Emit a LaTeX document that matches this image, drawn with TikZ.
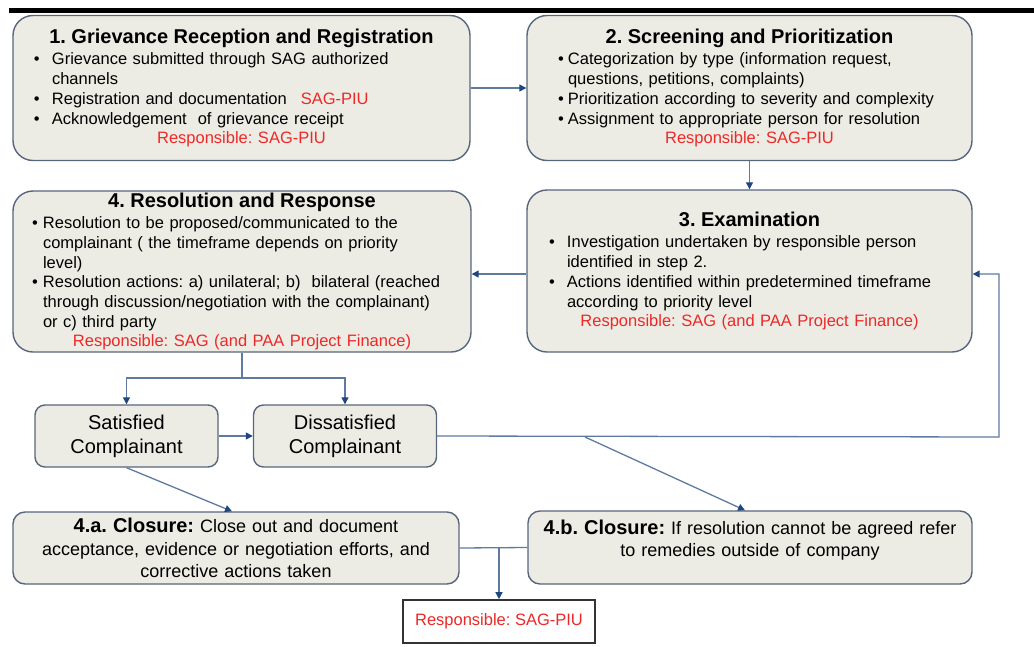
\documentclass[tikz,border=0pt]{standalone}
\usepackage{fontspec}
\setmainfont{Liberation Sans}
\usepackage{xcolor}
\usepackage{tikz}
\usetikzlibrary{arrows.meta, positioning, calc}
\definecolor{boxfill}{RGB}{236,236,228}
\definecolor{boxedge}{RGB}{88,102,125}
\definecolor{linkblue}{RGB}{95,122,160}
\definecolor{tipblue}{RGB}{31,70,125}
\definecolor{sagred}{RGB}{236,40,40}
\frenchspacing
\newcommand{\bitem}[2][18pt]{\par{\def\\{\newline}\hangindent=#1\hangafter=1\rightskip=-30pt plus 1fil\noindent\makebox[#1][l]{\textbullet}#2\par}}
\newcommand{\boxtitle}[1]{{\centering\fontsize{20}{23}\selectfont\bfseries #1\par}\vspace{2pt}}
\newcommand{\respline}[1]{{\centering\color{sagred}#1\par}}
\tikzset{
    stage/.style={
        rectangle,
        rounded corners=20pt,
        draw=boxedge,
        line width=1.4pt,
        fill=boxfill,
        align=left,
        inner ysep=1pt,
        font=\fontsize{16.5}{19.7}\selectfont\frenchspacing
    },
    outcome/.style={
        stage,
        rounded corners=10pt,
        align=center,
        minimum width=183pt,
        minimum height=62pt,
        font=\fontsize{20}{24}\selectfont
    },
    closure/.style={
        stage,
        rounded corners=12pt,
        align=center,
        inner xsep=4pt,
        font=\fontsize{18}{22.5}\selectfont\frenchspacing
    },
    respbox/.style={
        rectangle,
        draw=black!80,
        line width=1.6pt,
        fill=white,
        text=sagred,
        minimum width=192pt,
        minimum height=43pt,
        font=\fontsize{16.5}{19.7}\selectfont
    },
    link/.style={
        draw=linkblue,
        line width=1.3pt
    },
    flow/.style={
        link,
        -{Triangle[length=7pt,width=7pt,color=tipblue]}
    }
}

\begin{document}
\begin{tikzpicture}[x=1pt, y=-1pt]
\useasboundingbox (0,0) rectangle (1034,646);

% Top rule
\fill (9,8) rectangle (1034,13);

% Stages 1 to 4
\node[stage, inner xsep=21pt, text width=415pt, minimum width=457pt, minimum height=145pt] (grv) at (241.5,88) {%
\boxtitle{1. Grievance Reception and Registration}
\bitem{Grievance submitted through SAG authorized\\channels}
\bitem{Registration and documentation\hspace{14pt}{\color{sagred}SAG-PIU}}
\bitem{Acknowledgement\ \ of grievance receipt}
\respline{Responsible: SAG-PIU}};

\node[stage, inner xsep=31pt, text width=383pt, minimum width=445pt, minimum height=145pt] (scr) at (749.5,88) {%
\boxtitle{2. Screening and Prioritization}
\bitem[10pt]{Categorization by type (information request,\\questions, petitions, complaints)}
\bitem[10pt]{Prioritization according to severity and complexity}
\bitem[10pt]{Assignment to appropriate person for resolution}
\respline{Responsible: SAG-PIU}};

\node[stage, inner xsep=22pt, text width=401pt, minimum width=445pt, minimum height=162pt] (exm) at (749.5,271) {%
\boxtitle{3. Examination}
\bitem{Investigation undertaken by responsible person\\identified in step 2.}
\bitem{Actions identified within predetermined timeframe\\according to priority level}
\respline{Responsible: SAG (and PAA Project Finance)}};

\node[stage, inner xsep=19pt, text width=420pt, minimum width=458pt, minimum height=161pt] (rsl) at (242,271.5) {%
\boxtitle{4. Resolution and Response}
\bitem[11pt]{Resolution to be proposed/communicated to the\\complainant ( the timeframe depends on priority\\level)}
\bitem[11pt]{Resolution actions: a) unilateral; b)\ \ bilateral (reached\\through discussion/negotiation with the complainant)\\or c) third party}
\respline{Responsible: SAG (and PAA Project Finance)}};

% Outcomes
\node[outcome] (sat) at (126.5,436) {Satisfied\\Complainant};
\node[outcome] (dis) at (345,436) {Dissatisfied\\Complainant};

% Closures
\node[closure, text width=438pt, minimum width=446pt, minimum height=72pt] (cla) at (236,548) {%
{\fontsize{20}{22.5}\selectfont\bfseries 4.a. Closure:} Close out and document\\acceptance, evidence or negotiation efforts, and\\corrective actions taken};
\node[closure, text width=436pt, minimum width=444pt, minimum height=73pt] (clb) at (750,547.5) {%
{\fontsize{20}{22.5}\selectfont\bfseries 4.b. Closure:} If resolution cannot be agreed refer\\to remedies outside of company\rule[-19pt]{0pt}{1pt}};
\node[respbox] (resp) at (499,621.5) {Responsible: SAG-PIU};

% Junctions
\coordinate (split) at (242,378);
\coordinate (loop) at (999,437);
\coordinate (fork) at (585,437);
\coordinate (join) at (499,548);

% Connectors
\draw[flow] (grv.east) -- (grv.east -| scr.west);
\draw[flow] (scr.south) -- (exm.north);
\draw[flow] (exm.west |- 0,274) -- (rsl.east |- 0,274);
\draw[link] (rsl.south) -- (split);
\draw[flow] (split) -| (sat.north);
\draw[flow] (split) -| (dis.north);
\draw[flow] (sat.east) -- (dis.west);
\draw[flow] (dis.east) -- (loop) |- (exm.east |- 0,274);
\draw[flow] (fork) -- ($(clb.north)+(-5,0)$);
\draw[flow] (sat.south) -- ($(cla.north)+(-4,0)$);
\draw[link] (cla.east) -- (clb.west);
\draw[flow] (join) -- (resp.north);

\end{tikzpicture}
\end{document}
